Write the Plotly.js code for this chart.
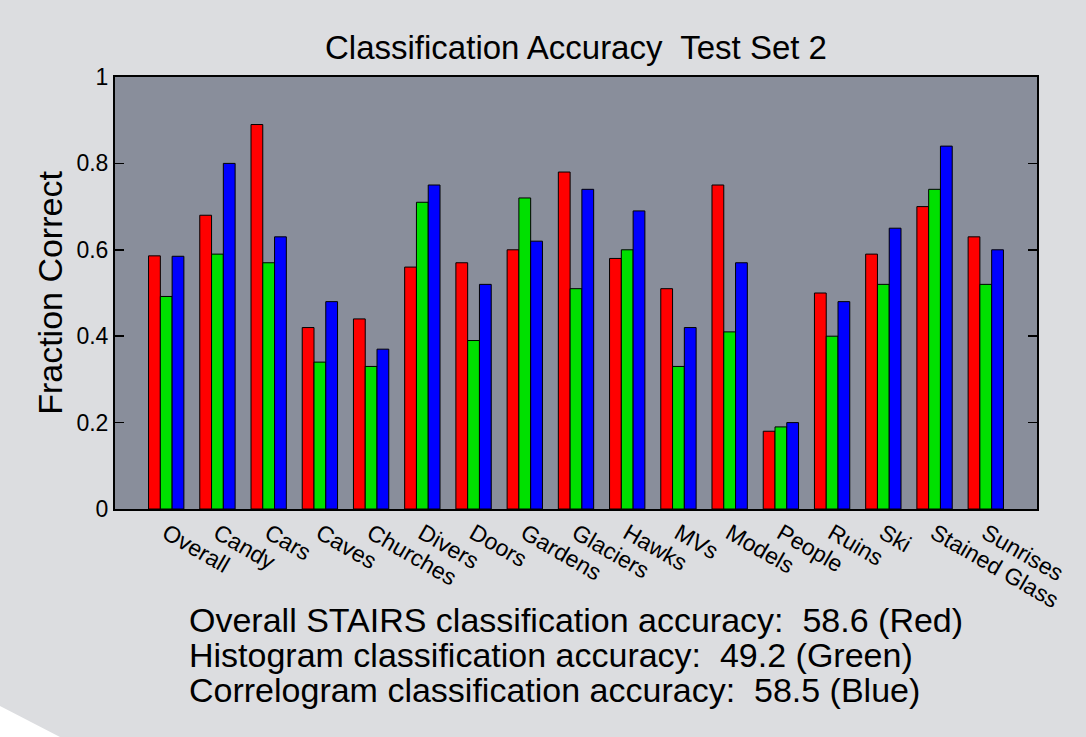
<!DOCTYPE html>
<html>
<head>
<meta charset="utf-8">
<script src="https://cdn.plot.ly/plotly-3.0.1.min.js"></script>
<style>
html,body{margin:0;padding:0;background:#dcdde0;}
#chart{width:1086px;height:737px;}
</style>
</head>
<body>
<div id="chart"></div>
<script>
const categories = ["Overall","Candy","Cars","Caves","Churches","Divers","Doors","Gardens","Glaciers","Hawks","MVs","Models","People","Ruins","Ski","Stained Glass","Sunrises"];
const stairs      = [0.586,0.68,0.89,0.42,0.44,0.56,0.57,0.60,0.78,0.58,0.51,0.75,0.18,0.50,0.59,0.70,0.63];
const histogram   = [0.492,0.59,0.57,0.34,0.33,0.71,0.39,0.72,0.51,0.60,0.33,0.41,0.19,0.40,0.52,0.74,0.52];
const correlogram = [0.585,0.80,0.63,0.48,0.37,0.75,0.52,0.62,0.74,0.69,0.42,0.57,0.20,0.48,0.65,0.84,0.60];
const yTicks = [0,0.2,0.4,0.6,0.8,1];
const summaryLines = [
  "Overall STAIRS classification accuracy:  58.6 (Red)",
  "Histogram classification accuracy:  49.2 (Green)",
  "Correlogram classification accuracy:  58.5 (Blue)"
];

const FONT = "'Liberation Sans', Arial, Helvetica, sans-serif";
const xIdx = categories.map((c,i)=>i);

function barTrace(vals, color, name){
  return {type:'bar', x:xIdx, y:vals, name:name,
    marker:{color:color, line:{color:'#000', width:1}}, hoverinfo:'x+y'};
}
const data = [
  barTrace(stairs,'#ff0000','STAIRS'),
  barTrace(histogram,'#00e000','Histogram'),
  barTrace(correlogram,'#0000ff','Correlogram')
];

const W=1086,H=737,L=115,R=49,T=77,B=228;
const pw=W-L-R, ph=H-T-B;
function px(x){return (x-L)/pw;}
function py(y){return (H-B-y)/ph;}

const layout = {
  width:W, height:H,
  margin:{l:L,r:R,t:T,b:B,pad:0},
  paper_bgcolor:'#dcdde0',
  plot_bgcolor:'#898e9b',
  showlegend:false,
  barmode:'group',
  bargap:0.31, bargroupgap:0,
  font:{family:FONT, color:'#000', size:22},
  title:{text:'Classification Accuracy  Test Set 2', font:{family:FONT,size:33,color:'#000'},
         x:0.5, xref:'paper', xanchor:'center', y:1-47/H, yanchor:'middle'},
  xaxis:{
    range:[-1,17], tickmode:'array', tickvals:xIdx, ticktext:categories,
    tickangle:30, ticks:'', showgrid:false, zeroline:false,
    showline:true, linecolor:'#000', linewidth:2, mirror:true,
    tickfont:{family:FONT,size:23,color:'#000'}
  },
  yaxis:{
    range:[0,1], tickmode:'array', tickvals:yTicks, ticktext:yTicks.map(String),
    ticks:'inside', ticklen:9, tickwidth:1.5, tickcolor:'#000',
    showgrid:false, zeroline:false,
    showline:true, linecolor:'#000', linewidth:2, mirror:'ticks',
    tickfont:{family:FONT,size:23,color:'#000'},
    title:{text:'Fraction Correct', font:{family:FONT,size:34,color:'#000'}, standoff:4}
  },
  shapes:[{
    type:'path', xref:'paper', yref:'paper', layer:'below',
    path:`M ${px(0)} ${py(706)} L ${px(60)} ${py(737)} L ${px(0)} ${py(737)} Z`,
    fillcolor:'#ffffff', line:{width:0}
  }],
  annotations: summaryLines.map((t,i)=>({
    text:t, xref:'paper', yref:'paper', x:px(187), y:py(620+35*i),
    xanchor:'left', yanchor:'middle', showarrow:false,
    font:{family:FONT,size:34,color:'#000'}
  }))
};

Plotly.newPlot('chart', data, layout, {displayModeBar:false, staticPlot:true});
</script>
</body>
</html>
